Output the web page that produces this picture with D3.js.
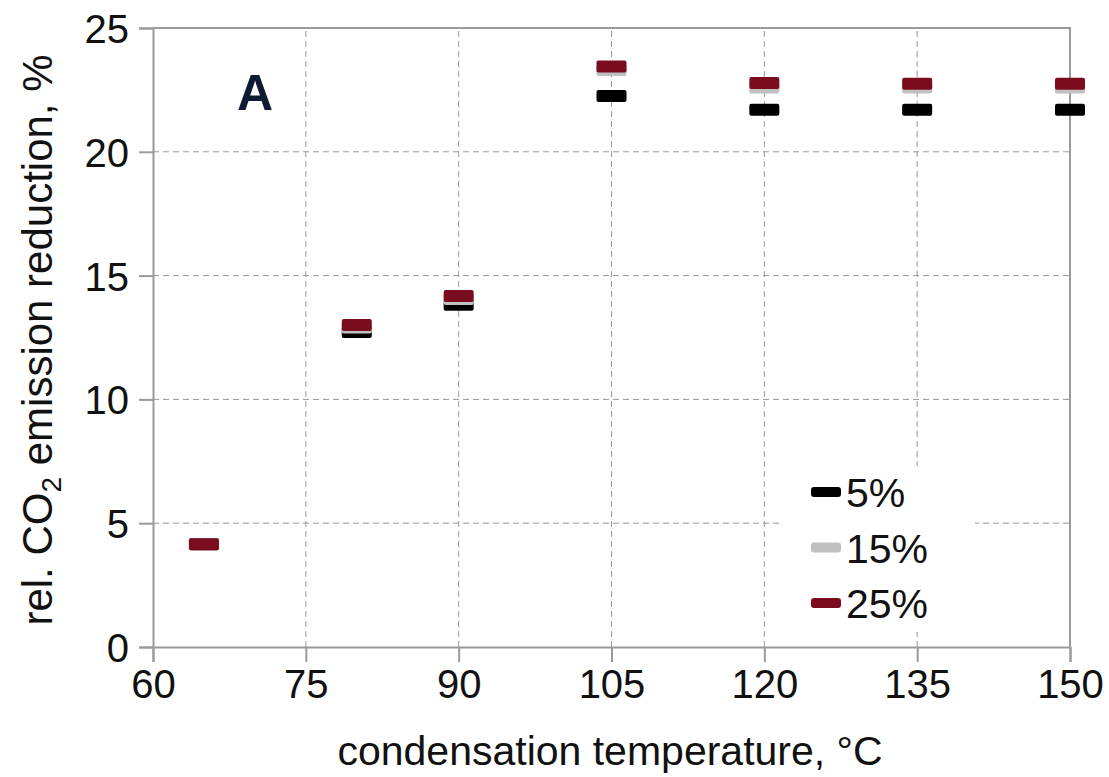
<!DOCTYPE html>
<html>
<head>
<meta charset="utf-8">
<script src="https://cdn.jsdelivr.net/npm/d3@7"></script>
<style>
  body { margin: 0; background: #fff; }
  svg text { font-family: "Liberation Sans", Arial, sans-serif; }
</style>
</head>
<body>
<div id="chart"></div>
<script>
// condensation temperatures and CO2 reduction for three shares
const temps = [65, 80, 90, 105, 120, 135, 150];
const series = ["5%", "15%", "25%"];
const val5 = [4.15, 12.72, 13.82, 22.25, 21.7, 21.7, 21.7];
const val15 = [4.15, 12.9, 14.05, 23.3, 22.6, 22.6, 22.6];
const val25 = [4.15, 13.0, 14.18, 23.45, 22.78, 22.75, 22.75];
const xTicks = [60, 75, 90, 105, 120, 135, 150];
const yTicks = [0, 5, 10, 15, 20, 25];

const colors = {"5%": "#000000", "15%": "#c0c0c0", "25%": "#7b0c1e"};
const values = {"5%": val5, "15%": val15, "25%": val25};

const width = 1109, height = 777;
const margin = {top: 28, right: 39, bottom: 130, left: 153};

const svg = d3.select("#chart")
  .append("svg")
  .attr("width", width)
  .attr("height", height);

const x = d3.scaleLinear().domain([60, 150]).range([margin.left, width - margin.right]);
const y = d3.scaleLinear().domain([0, 25]).range([height - margin.bottom, margin.top]);

// grid lines
svg.append("g")
  .selectAll("line")
  .data(xTicks.slice(1, -1))
  .join("line")
  .attr("x1", d => x(d)).attr("x2", d => x(d))
  .attr("y1", y(0)).attr("y2", y(25))
  .attr("stroke", "#999")
  .attr("stroke-dasharray", "6,4");

svg.append("g")
  .selectAll("line")
  .data(yTicks.slice(1, -1))
  .join("line")
  .attr("x1", x(60)).attr("x2", x(150))
  .attr("y1", d => y(d)).attr("y2", d => y(d))
  .attr("stroke", "#999")
  .attr("stroke-dasharray", "6,4");

// top + right border
svg.append("path")
  .attr("d", `M${x(60)},${y(25)}H${x(150)}V${y(0)}`)
  .attr("fill", "none")
  .attr("stroke", "#9a9a9a")
  .attr("stroke-width", 2);

// axes
const xAxis = svg.append("g")
  .attr("transform", `translate(0,${y(0)})`)
  .call(d3.axisBottom(x).tickValues(xTicks).tickSize(15).tickPadding(8));
const yAxis = svg.append("g")
  .attr("transform", `translate(${x(60)},0)`)
  .call(d3.axisLeft(y).tickValues(yTicks).tickSize(14).tickPadding(10));

[xAxis, yAxis].forEach(a => {
  a.select(".domain").attr("stroke", "#9a9a9a").attr("stroke-width", 2);
  a.selectAll(".tick line").attr("stroke", "#9a9a9a").attr("stroke-width", 2);
  a.selectAll("text").attr("font-size", 40).attr("fill", "#111")
    .style("font-family", "'Liberation Sans', Arial, sans-serif");
});
yAxis.selectAll("text").attr("dy", "0.36em");

// markers (dash symbols)
const mw = 30, mh = 12;
series.forEach(s => {
  svg.append("g")
    .selectAll("rect")
    .data(temps.map((t, i) => ({t: t, v: values[s][i]})))
    .join("rect")
    .attr("x", d => x(d.t) - mw / 2)
    .attr("y", d => y(d.v) - mh / 2)
    .attr("width", mw)
    .attr("height", mh)
    .attr("rx", 2)
    .attr("fill", colors[s]);
});

// legend
const lg = svg.append("g");
lg.append("rect")
  .attr("x", 782).attr("y", 466).attr("width", 193).attr("height", 166)
  .attr("fill", "#fff");
series.forEach((s, i) => {
  const ly = 492 + i * 55.5;
  lg.append("rect")
    .attr("x", 811).attr("y", ly - 5).attr("width", 30).attr("height", 10)
    .attr("rx", 3).attr("fill", colors[s]);
  lg.append("text")
    .attr("x", 846).attr("y", ly + 15)
    .attr("font-size", 41).attr("fill", "#111")
    .text(s);
});

// panel label
svg.append("text")
  .attr("x", 237).attr("y", 110)
  .attr("font-size", 50).attr("font-weight", "bold")
  .attr("fill", "#0f1a33")
  .text("A");

// axis titles
svg.append("text")
  .attr("x", 610).attr("y", 765)
  .attr("text-anchor", "middle")
  .attr("font-size", 41).attr("fill", "#111")
  .text("condensation temperature, °C");

const yt = svg.append("text")
  .attr("transform", "translate(52,340) rotate(-90)")
  .attr("text-anchor", "middle")
  .attr("font-size", 42).attr("fill", "#111");
yt.append("tspan").text("rel. CO");
yt.append("tspan").attr("font-size", 28).attr("dy", 9).text("2");
yt.append("tspan").attr("dy", -9).text(" emission reduction, %");
</script>
</body>
</html>
